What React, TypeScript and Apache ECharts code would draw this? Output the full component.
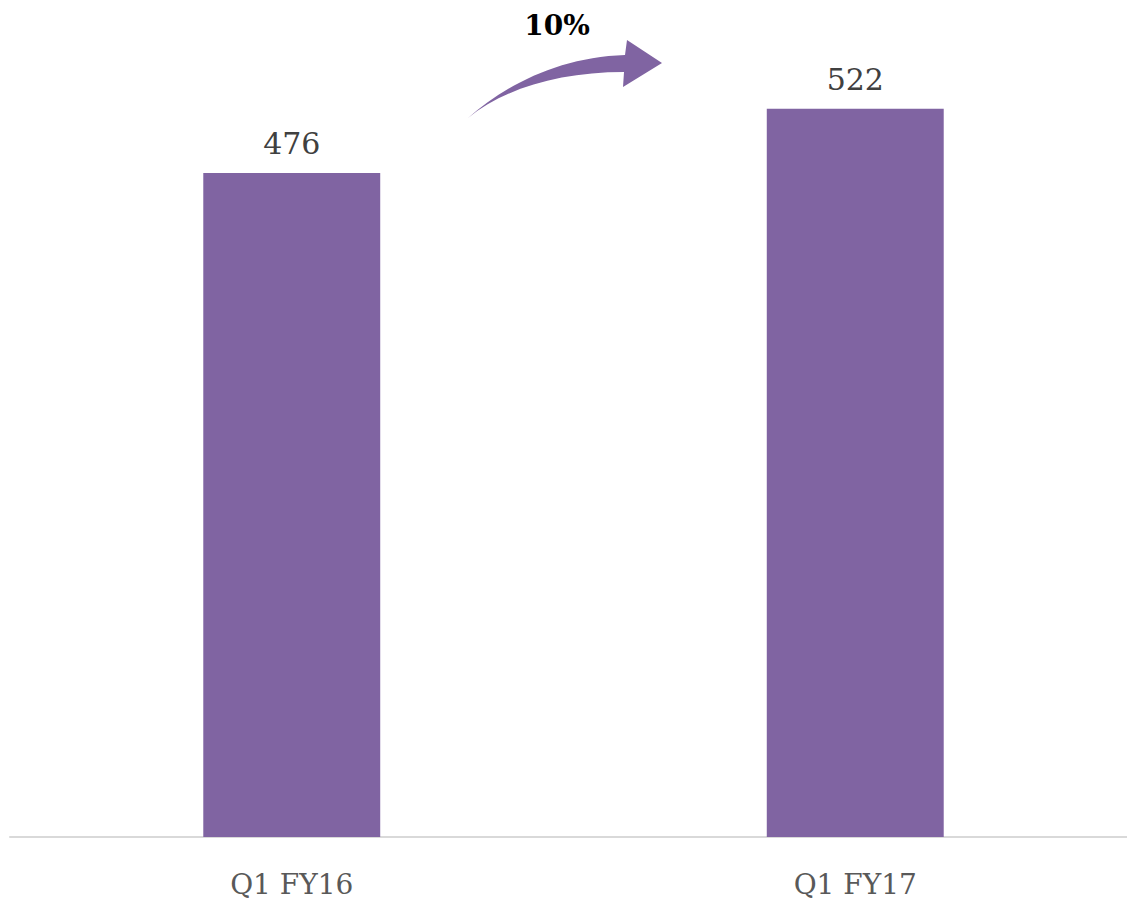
import React, { useEffect, useRef } from "react";
import * as echarts from "echarts";

const categories = ["Q1 FY16", "Q1 FY17"];
const values = [476, 522];
const growthLabel = "10%";

const ARROW_D =
  "M468,118 C505,85 560,57 625,55 L627,40 L662,63 L623,87 L624,72 C560,72 505,88 468,118 Z";

let registered = false;
function ensureShape() {
  if (registered) return;
  echarts.graphic.registerShape("growthArrow", (echarts.graphic as any).extendPath(ARROW_D, {}));
  registered = true;
}

export default function App() {
  const ref = useRef<HTMLDivElement>(null);
  useEffect(() => {
    if (!ref.current) return;
    document.body.style.overflow = "hidden";
    ensureShape();
    const chart = echarts.init(ref.current, null, { renderer: "svg" });
    chart.setOption({
      animation: false,
      backgroundColor: "#ffffff",
      grid: { left: 10, right: 0, top: 0, bottom: 69, containLabel: false },
      xAxis: {
        type: "category",
        data: categories,
        axisLine: { show: true, lineStyle: { color: "#d9d9d9", width: 2 } },
        axisTick: { show: false },
        axisLabel: {
          color: "#595959",
          fontFamily: "DejaVu Serif",
          fontSize: 28,
          margin: 33,
        },
      },
      yAxis: {
        type: "value",
        min: 0,
        max: 600,
        show: false,
        splitLine: { show: false },
      },
      series: [
        {
          type: "bar",
          data: values,
          barWidth: "31.4%",
          itemStyle: { color: "#8064a2" },
          label: {
            show: true,
            position: "top",
            distance: 14,
            color: "#404040",
            fontFamily: "DejaVu Serif",
            fontSize: 30,
          },
        },
      ],
      graphic: [
        {
          type: "growthArrow",
          x: 0,
          y: 0,
          style: { fill: "#8064a2" },
        } as any,
        {
          type: "text",
          x: 557,
          y: 25,
          style: {
            text: growthLabel,
            fill: "#000000",
            font: "bold 28px 'DejaVu Serif'",
            textAlign: "center",
            textVerticalAlign: "middle",
          },
        },
      ],
    });
    return () => chart.dispose();
  }, []);
  return (
    <div
      ref={ref}
      style={{ position: "fixed", left: 0, top: 0, width: 1137, height: 906 }}
    />
  );
}
